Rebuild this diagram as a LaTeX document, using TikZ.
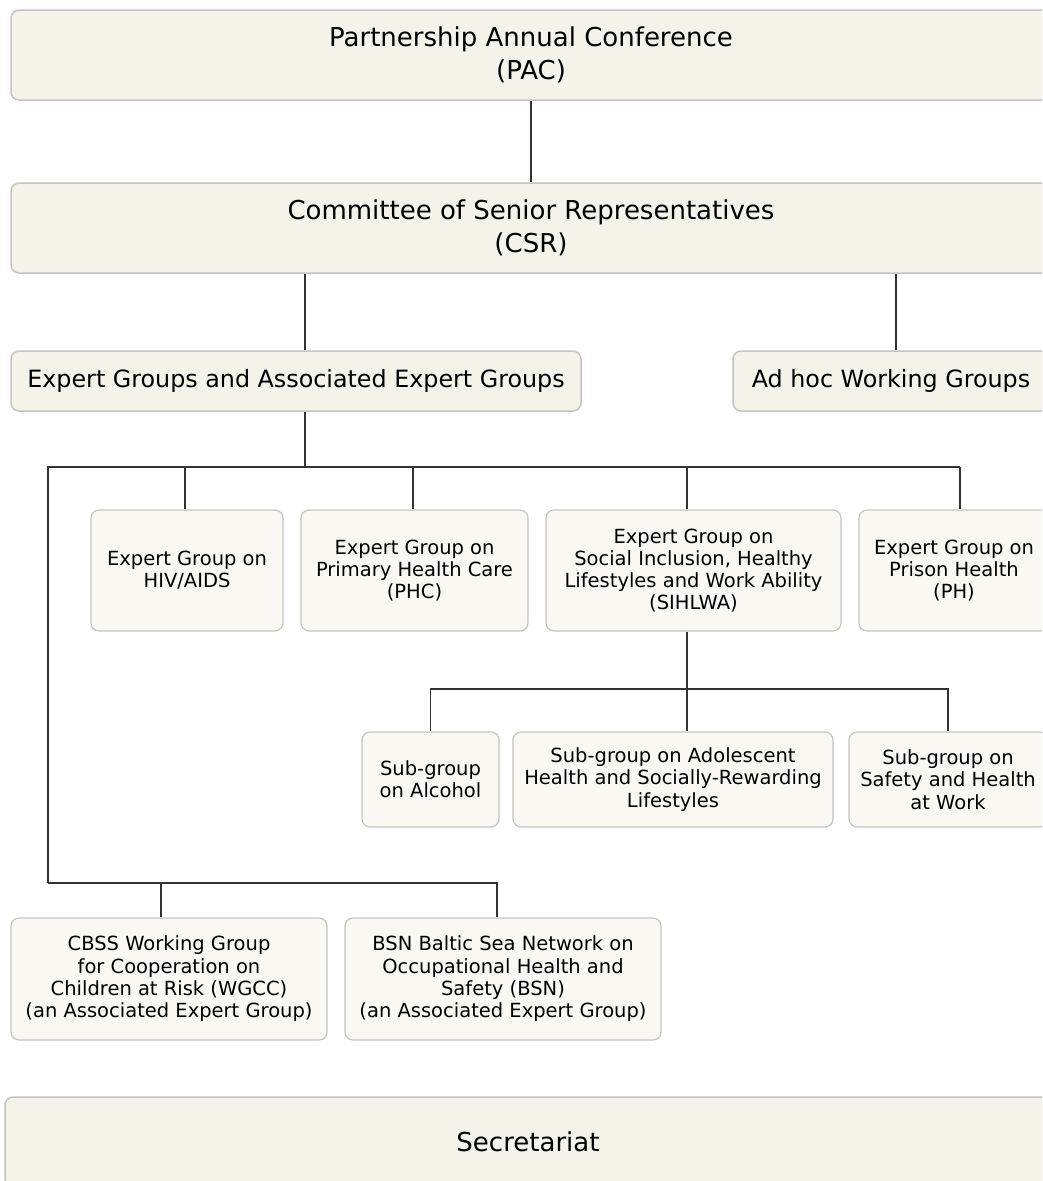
\documentclass[tikz,border=0pt]{standalone}
\usepackage{fontspec}
\setmainfont{DejaVu Sans}
\usetikzlibrary{calc}

\definecolor{boxfill}{HTML}{F5F2EA}
\definecolor{smallfill}{HTML}{F9F8F3}
\definecolor{boxline}{HTML}{C4C4C0}
\definecolor{linkline}{HTML}{333333}

\begin{document}
\begin{tikzpicture}[x=1pt,y=-1pt,
	bigbox/.style={draw=boxline,fill=boxfill,line width=1.5pt,rounded corners=8pt,align=center,
		inner sep=0pt,font=\fontsize{26}{33}\selectfont},
	midbox/.style={bigbox,font=\fontsize{23.8}{28}\selectfont},
	smallbox/.style={draw=boxline,fill=smallfill,line width=1.2pt,rounded corners=8pt,align=center,
		inner sep=0pt,font=\fontsize{19.5}{22.3}\selectfont},
	link/.style={draw=linkline,line width=1.6pt}]
	\pgfmathsetmacro{\W}{1042}			%width of picture
	\pgfmathsetmacro{\H}{1181}			%height of picture
	\pgfmathsetmacro{\tall}{121}		%height of expert group boxes
	\pgfmathsetmacro{\subtall}{95}		%height of sub-group boxes
	\useasboundingbox (0,0) rectangle (\W,\H);
	\clip (0,0) rectangle (\W,\H);
	\fill[white] (0,0) rectangle (\W,\H);

	%top levels
	\node[bigbox,minimum width=1040pt,minimum height=90pt] (pac) at (531,55) {Partnership Annual Conference\\(PAC)};
	\node[bigbox,minimum width=1040pt,minimum height=90pt] (csr) at (531,228) {Committee of Senior Representatives\\(CSR)};
	\node[midbox,minimum width=570pt,minimum height=60pt] (expert) at (296,381) {Expert Groups and Associated Expert Groups};
	\node[midbox,minimum width=316pt,minimum height=60pt] (adhoc) at (891,381) {Ad hoc Working Groups};

	%expert groups
	\node[smallbox,minimum width=192pt,minimum height=\tall pt] (hiv) at (187,570.5) {Expert Group on\\HIV/AIDS};
	\node[smallbox,minimum width=227pt,minimum height=\tall pt] (phc) at (414.5,570.5) {Expert Group on\\Primary Health Care\\(PHC)};
	\node[smallbox,minimum width=295pt,minimum height=\tall pt] (sihlwa) at (693.5,570.5) {Expert Group on\\Social Inclusion, Healthy\\Lifestyles and Work Ability\\(SIHLWA)};
	\node[smallbox,minimum width=190pt,minimum height=\tall pt] (ph) at (954,570.5) {Expert Group on\\Prison Health\\(PH)};

	%sub-groups
	\node[smallbox,minimum width=137pt,minimum height=\subtall pt] (alcohol) at (430.5,779.5) {Sub-group\\on Alcohol};
	\node[smallbox,minimum width=320pt,minimum height=\subtall pt] (adolescent) at (673,779.5) {Sub-group on Adolescent\\Health and Socially-Rewarding\\Lifestyles};
	\node[smallbox,minimum width=198pt,minimum height=\subtall pt] (safety) at (948,779.5) {Sub-group on\\Safety and Health\\at Work};

	%associated expert groups
	\node[smallbox,minimum width=316pt,minimum height=122pt] (wgcc) at (169,979) {CBSS Working Group\\for Cooperation on\\Children at Risk (WGCC)\\(an Associated Expert Group)};
	\node[smallbox,minimum width=316pt,minimum height=122pt] (bsn) at (503,979) {BSN Baltic Sea Network on\\Occupational Health and\\Safety (BSN)\\(an Associated Expert Group)};

	\node[bigbox,minimum width=1046pt,minimum height=90pt] (secretariat) at (528,1142) {Secretariat};

	%bus lines
	\coordinate (egbus) at (305,467);
	\coordinate (egleft) at (48,467);
	\coordinate (egright) at (960,467);
	\coordinate (subbus) at (687,689);
	\coordinate (aegleft) at (48,883);
	\coordinate (aegright) at (497,883);

	%connections
	\draw[link] (pac) -- (csr);
	\draw[link] ([xshift=9pt]expert.north) -- ([xshift=9pt]expert.north |- csr.south);
	\draw[link] ([xshift=5pt]adhoc.north) -- ([xshift=5pt]adhoc.north |- csr.south);
	\draw[link] ([xshift=9pt]expert.south) -- (egbus);
	\draw[link] (aegleft) -- (egleft) -- (egright);
	\draw[link] ([xshift=-2pt]hiv.north) -- ([xshift=-2pt]hiv.north |- egbus);
	\draw[link] ([xshift=-1.5pt]phc.north) -- ([xshift=-1.5pt]phc.north |- egbus);
	\draw[link] ([xshift=-6.5pt]sihlwa.north) -- ([xshift=-6.5pt]sihlwa.north |- egbus);
	\draw[link] (egright) -- ([xshift=6pt]ph.north);
	\draw[link] ([xshift=-6.5pt]sihlwa.south) -- (subbus);
	\draw[link] (alcohol.north) |- (subbus) -| (safety.north);
	\draw[link] (subbus) -- ([xshift=14pt]adolescent.north);
	\draw[link] (aegleft) -- (aegright) -- ([xshift=-6pt]bsn.north);
	\draw[link] ([xshift=-8pt]wgcc.north) -- ([xshift=-8pt]wgcc.north |- aegleft);
\end{tikzpicture}
\end{document}
